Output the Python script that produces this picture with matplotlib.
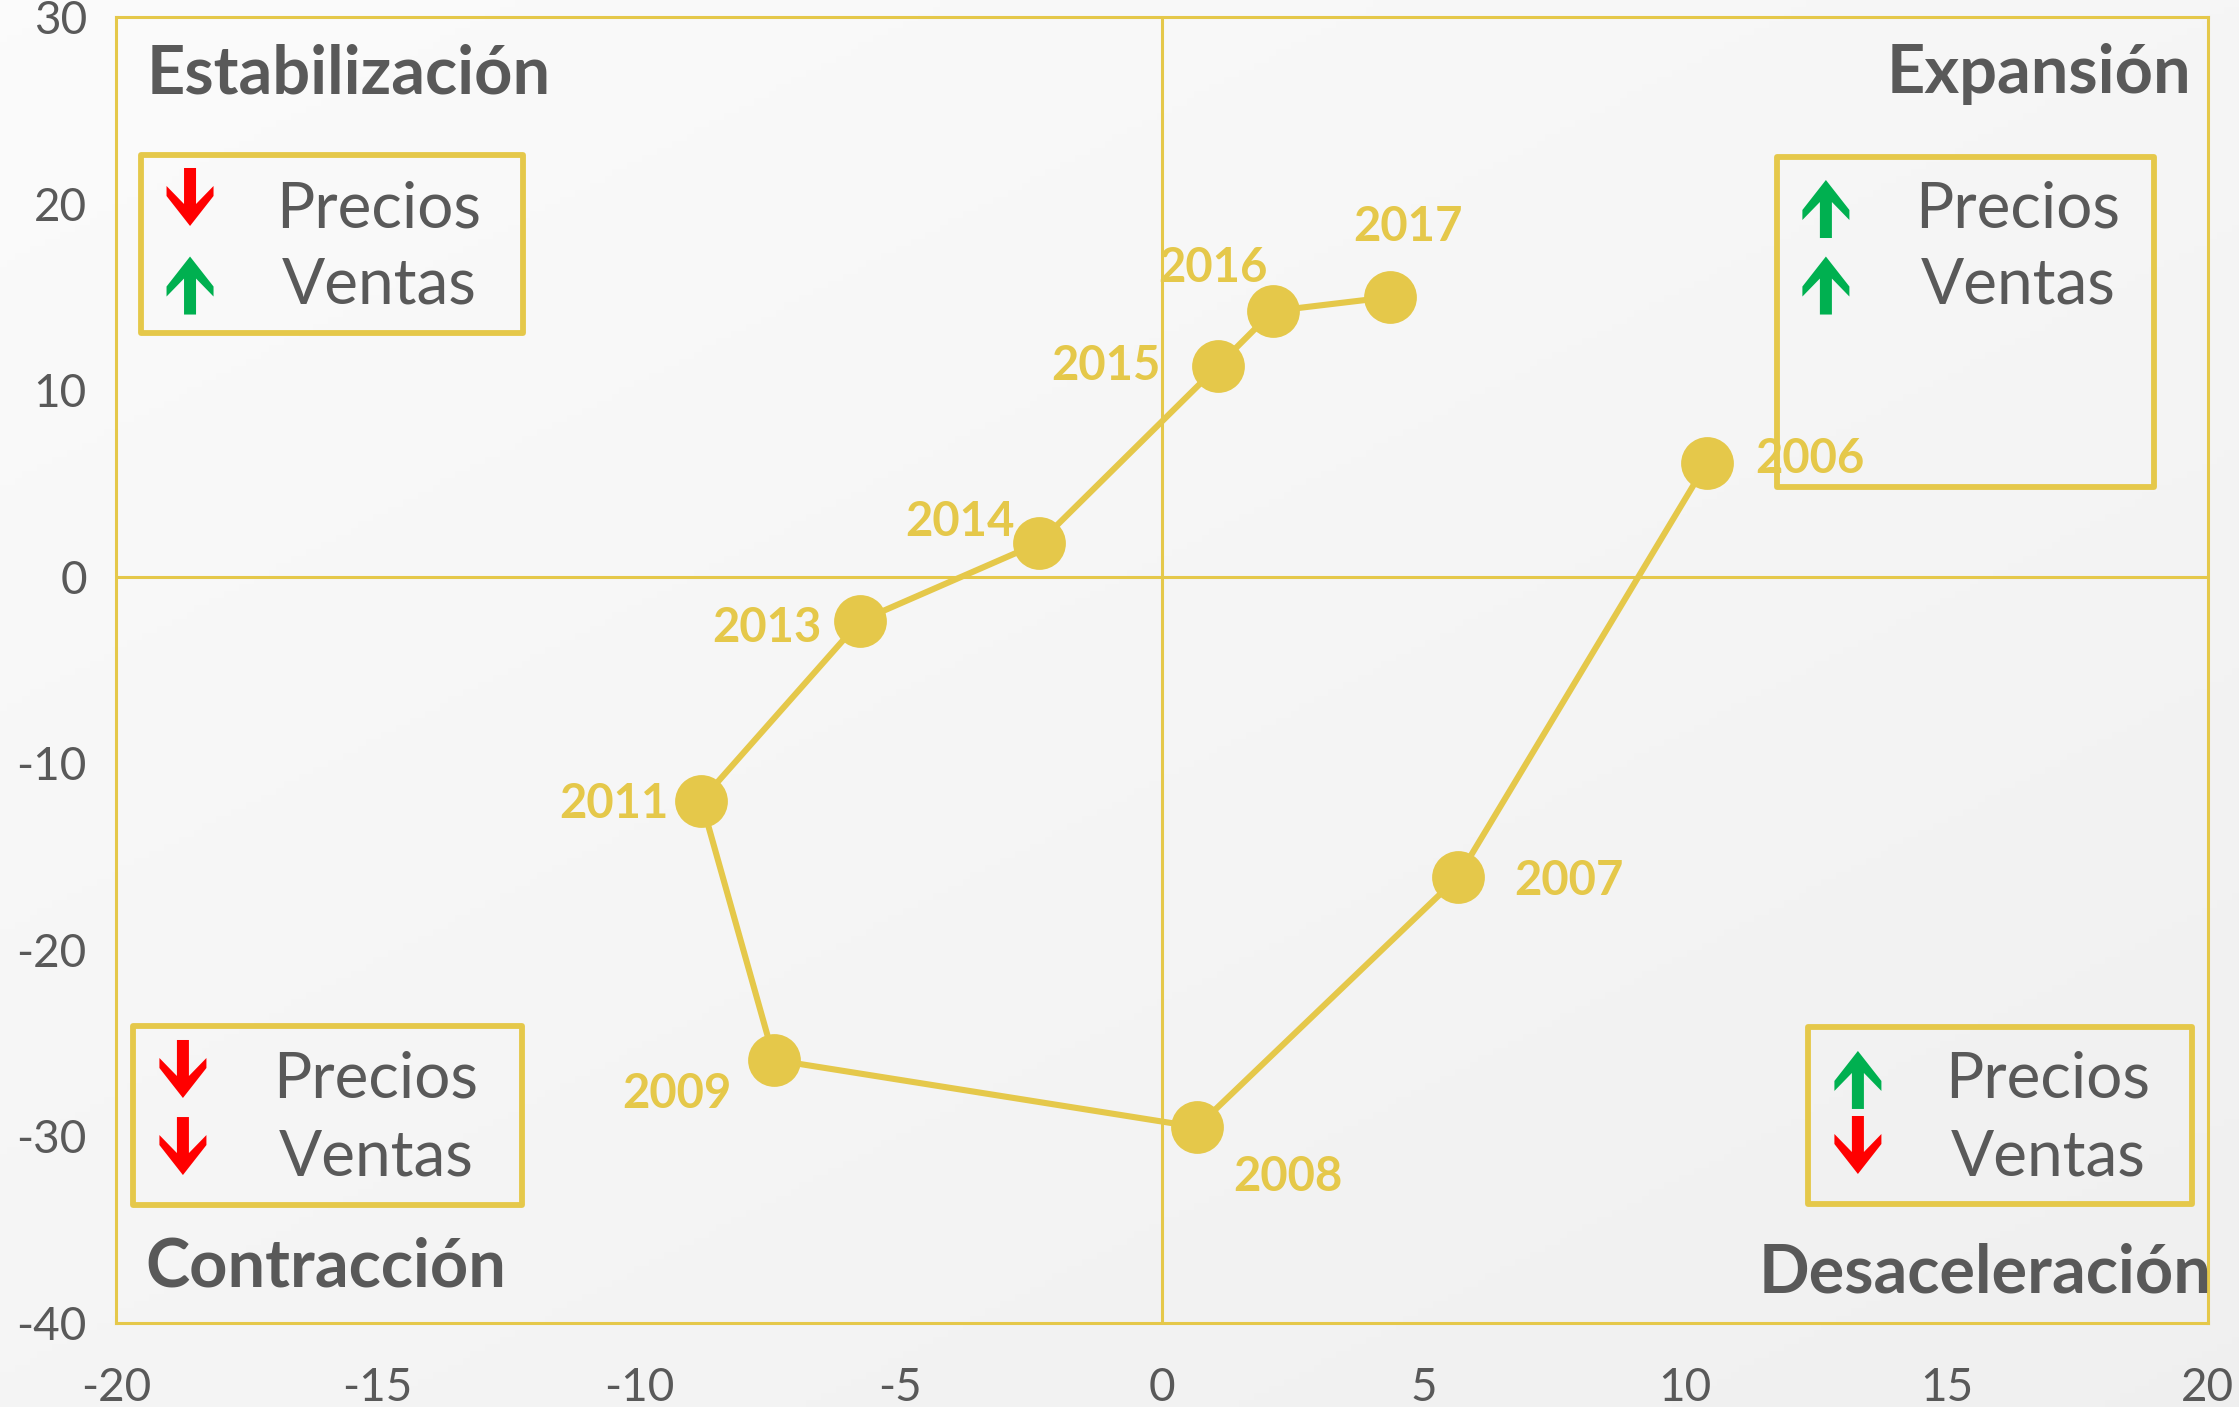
import numpy as np
import matplotlib
matplotlib.use("Agg")
import matplotlib.pyplot as plt
import matplotlib.transforms as mtransforms
from matplotlib.patches import Polygon, Rectangle

# data
years = ['2006', '2007', '2008', '2009', '2011', '2013', '2014', '2015', '2016', '2017']
precios = [10.42, 5.66, 0.67, -7.41, -8.81, -5.77, -2.35, 1.07, 2.12, 4.36]
ventas = [6.1, -16.1, -29.5, -25.9, -12.0, -2.37, 1.81, 11.29, 14.24, 14.99]
x_ticks = [-20, -15, -10, -5, 0, 5, 10, 15, 20]
y_ticks = [-40, -30, -20, -10, 0, 10, 20, 30]

quadrants = ['Estabilización', 'Expansión', 'Contracción', 'Desaceleración']
legend_items = ['Precios', 'Ventas']
# direction of arrows per quadrant (precios, ventas): +1 up / -1 down
quadrant_dirs = [(-1, 1), (1, 1), (-1, -1), (1, -1)]

# label offsets in pixels (dx, dy) for the year labels
label_offsets = [(103, 4), (111, -4), (91, -50), (-98, -34), (-87, -3),
                 (-93, -7), (-79, 21), (-112, 0), (-60, 43), (18, 70)]

YELLOW = '#E5C84A'
GREY = '#595959'
RED = '#FF0000'
GREEN = '#00B050'

plt.rcParams['font.family'] = ['Lato', 'DejaVu Sans']
plt.rcParams['axes.unicode_minus'] = False

fig = plt.figure(figsize=(22.39, 14.07), dpi=100)

# light grey background, a little darker towards the bottom right
bg = fig.add_axes([0, 0, 1, 1], zorder=-10)
gx, gy = np.meshgrid(np.linspace(0, 1, 300), np.linspace(0, 1, 200))
shade = 0.985 - 0.045 * (0.45 * gx + 0.55 * gy)
bg.imshow(np.dstack([shade] * 3), aspect='auto', extent=[0, 1, 0, 1], origin='upper')
bg.axis('off')

ax = fig.add_axes([0.0518, 0.0597, 0.9343, 0.9282])
ax.set_facecolor('none')
ax.set_xlim(-20, 20)
ax.set_ylim(-40, 30)
ax.set_xticks(x_ticks)
ax.set_yticks(y_ticks)
ax.tick_params(length=0, labelsize=33, labelcolor=GREY)
ax.tick_params(axis='x', pad=32)
ax.tick_params(axis='y', pad=21)
for sp in ax.spines.values():
    sp.set_color(YELLOW)
    sp.set_linewidth(2.2)

ax.axhline(0, color=YELLOW, lw=2.2, zorder=1)
ax.axvline(0, color=YELLOW, lw=2.2, zorder=1)

ax.plot(precios, ventas, color=YELLOW, lw=4.4, marker='o', ms=38,
        markeredgewidth=0, zorder=3)
for yr, px, vy, off in zip(years, precios, ventas, label_offsets):
    ax.annotate(yr, (px, vy), xytext=off, textcoords='offset pixels',
                ha='center', va='center', fontsize=34, fontweight='bold',
                color=YELLOW, zorder=4)

# quadrant titles
title_pos = [(0.0148, 0.9418, 'left'), (0.9919, 0.9418, 'right'),
             (0.0139, 0.0276, 'left'), (1.0019, 0.0237, 'right')]
for name, (tx, ty, ha) in zip(quadrants, title_pos):
    ax.text(tx, ty, name, transform=ax.transAxes, ha=ha, va='baseline',
            fontsize=48, fontweight='bold', color=GREY, zorder=5)

# legend boxes (x0, x1, y0, y1) in axes fraction
boxes = [(0.0119, 0.1946, 0.7580, 0.8943), (0.7940, 0.9742, 0.6401, 0.8928),
         (0.0081, 0.1941, 0.0904, 0.2274), (0.8088, 0.9924, 0.0911, 0.2266)]
arrow_x = [0.0354, 0.8174, 0.0320, 0.8327]
arrow_y = [(0.8622, 0.7944), (0.8530, 0.7944), (0.1945, 0.1355), (0.1861, 0.1363)]
text_x = [0.1257, 0.9092, 0.1243, 0.9235]
text_y = [(0.8392, 0.7810), (0.8392, 0.7810), (0.1723, 0.1133), (0.1723, 0.1133)]

# arrow outline in pixels, pointing up, centred on (0, 0)
arrow_px = np.array([(0, 29), (23.5, -1), (23.5, -11), (6, 7), (6, -29),
                     (-6, -29), (-6, 7), (-23.5, -11), (-23.5, -1)])


def draw_arrow(x, y, direction):
    pts = arrow_px.copy()
    pts[:, 1] *= direction
    trans = fig.dpi_scale_trans + mtransforms.ScaledTranslation(x, y, ax.transAxes)
    ax.add_patch(Polygon(pts / 100.0, closed=True, transform=trans,
                         facecolor=GREEN if direction > 0 else RED,
                         edgecolor='none', zorder=5, clip_on=False))


for i in range(4):
    x0, x1, y0, y1 = boxes[i]
    ax.add_patch(Rectangle((x0, y0), x1 - x0, y1 - y0, transform=ax.transAxes,
                           fill=False, edgecolor=YELLOW, lw=4.2,
                           joinstyle='round', zorder=2))
    for j in range(2):
        draw_arrow(arrow_x[i], arrow_y[i][j], quadrant_dirs[i][j])
        ax.text(text_x[i], text_y[i][j], legend_items[j], transform=ax.transAxes,
                ha='center', va='baseline', fontsize=46, color=GREY, zorder=5)

fig.savefig('out.png', dpi=100)
